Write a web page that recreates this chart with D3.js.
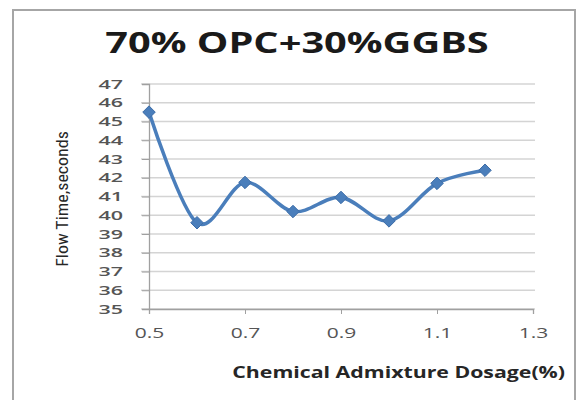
<!DOCTYPE html>
<html><head><meta charset="utf-8">
<script src="https://cdn.jsdelivr.net/npm/d3@7"></script>
<style>body{margin:0;background:#fff}svg{display:block}</style>
</head><body>
<script>
const dosage = [0.5, 0.6, 0.7, 0.8, 0.9, 1.0, 1.1, 1.2];
const flowTime = [45.5, 39.6, 41.75, 40.2, 40.95, 39.7, 41.7, 42.4];
const xTicks = [0.5, 0.7, 0.9, 1.1, 1.3];
const yTicks = d3.range(35, 48, 1);
const title = "70% OPC+30%GGBS";
const xTitle = "Chemical Admixture Dosage(%)";
const yTitle = "Flow Time,seconds";

const W = 576, H = 400;
const svg = d3.select("body").append("svg").attr("width", W).attr("height", H);
svg.append("rect").attr("x", 13).attr("y", 10).attr("width", 562).attr("height", 400)
  .attr("fill", "#fff").attr("stroke", "#a6a6a6").attr("stroke-width", 2);

function stretch(sel, k) {
  sel.each(function () {
    const w = this.getComputedTextLength();
    d3.select(this).attr("textLength", w * k).attr("lengthAdjust", "spacingAndGlyphs");
  });
}

const x = d3.scaleLinear().domain([0.5, 1.3]).range([149, 533]);
const y = d3.scaleLinear().domain([35, 47]).range([309, 84]);

// gridlines
svg.append("g").selectAll("line").data(yTicks).join("line")
  .attr("x1", 141).attr("x2", 535)
  .attr("y1", d => y(d)).attr("y2", d => y(d))
  .attr("stroke", "#d4d4d4").attr("stroke-width", 1.3);

// y axis
const yAxis = svg.append("g").attr("transform", `translate(${x(0.5)},0)`)
  .call(d3.axisLeft(y).tickValues(yTicks).tickSize(7).tickPadding(19));
yAxis.select(".domain").attr("stroke", "#a0a0a0").attr("stroke-width", 1.3);
yAxis.selectAll(".tick line").attr("stroke", "#a0a0a0");
yAxis.selectAll("text").attr("font-family", "'Open Sans', sans-serif").attr("font-size", 13)
  .attr("font-weight", 600).attr("fill", "#555").call(stretch, 1.65);

// x axis
const xAxis = svg.append("g").attr("transform", `translate(0,${y(35)})`)
  .call(d3.axisBottom(x).tickValues(xTicks).tickSize(5).tickPadding(13).tickFormat(d3.format(".1f")));
xAxis.select(".domain").attr("stroke", "#a0a0a0").attr("stroke-width", 1.3);
xAxis.selectAll(".tick line").attr("stroke", "#a0a0a0");
xAxis.selectAll("text").attr("font-family", "'Open Sans', sans-serif").attr("font-size", 15)
  .attr("fill", "#555").call(stretch, 1.4);

// line
const pts = dosage.map((d, i) => [d, flowTime[i]]);
const line = d3.line().x(d => x(d[0])).y(d => y(d[1])).curve(d3.curveCardinal.tension(0));
svg.append("path").datum(pts).attr("d", line).attr("fill", "none")
  .attr("stroke", "#4a7ebb").attr("stroke-width", 3.5).attr("stroke-linejoin", "round");
svg.append("g").selectAll("path").data(pts).join("path")
  .attr("d", d3.symbol(d3.symbolDiamond2, 100))
  .attr("transform", d => `translate(${x(d[0])},${y(d[1])})`)
  .attr("fill", "#4a7ebb").attr("stroke", "#3d6da8").attr("stroke-width", 1);

// titles
svg.append("text").attr("x", 297).attr("y", 53).attr("text-anchor", "middle")
  .attr("font-family", "'Open Sans', sans-serif").attr("font-weight", "bold").attr("font-size", 29)
  .attr("fill", "#1a1a1a").text(title).call(stretch, 1.37);
svg.append("text").attr("x", 565).attr("y", 378).attr("text-anchor", "end")
  .attr("font-family", "'Open Sans', sans-serif").attr("font-weight", "bold").attr("font-size", 16)
  .attr("fill", "#262626").text(xTitle).call(stretch, 1.33);
svg.append("text").attr("transform", "translate(68,199) rotate(-90)").attr("text-anchor", "middle")
  .attr("font-family", "'Liberation Sans Narrow', 'Roboto Condensed', sans-serif").attr("font-size", 16)
  .attr("fill", "#262626").text(yTitle).call(stretch, 1.12);
</script>
</body></html>
